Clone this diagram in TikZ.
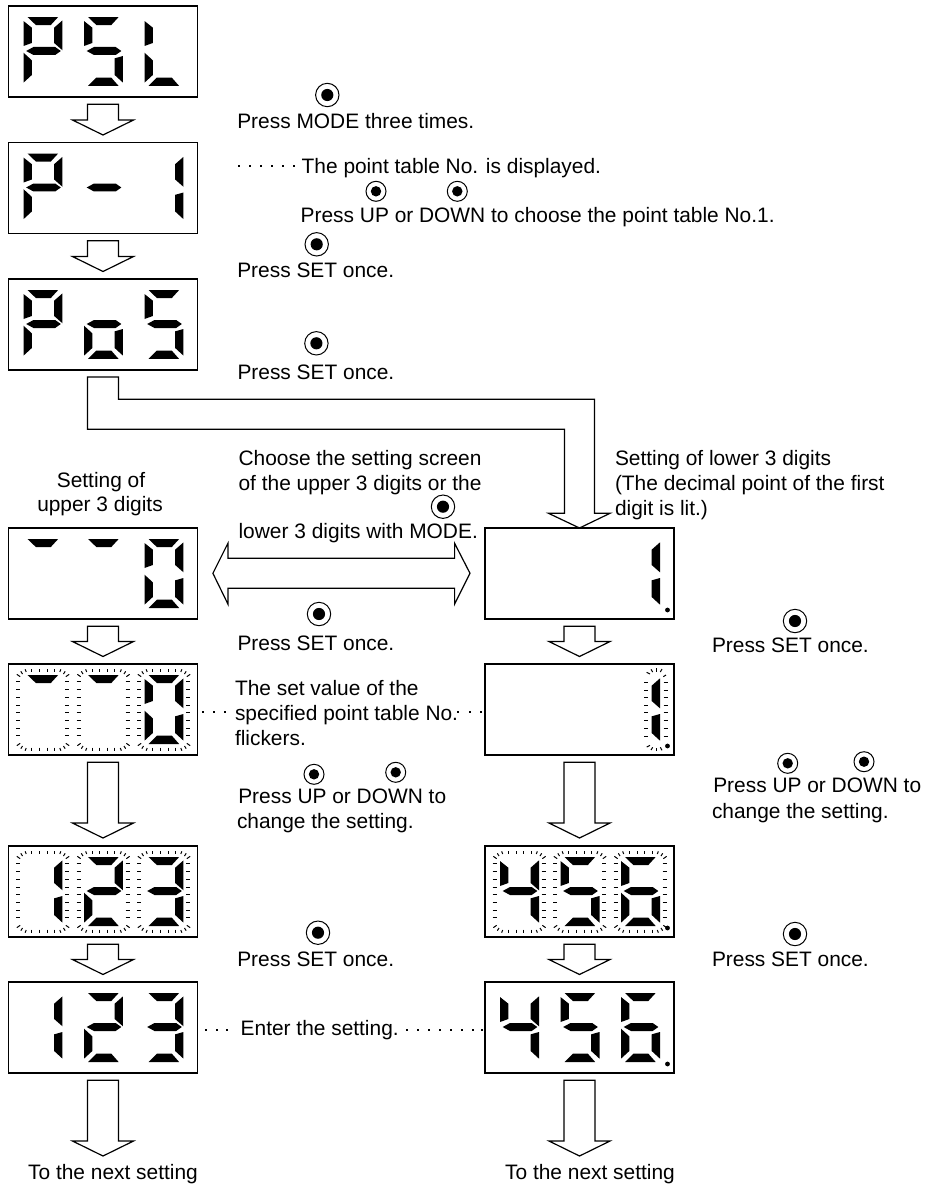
\documentclass[tikz,border=0pt]{standalone}
\usepackage{fontspec}
\setmainfont{Liberation Sans}
\usetikzlibrary{calc}
\tikzset{
  x=1pt,y=-1pt,
  screen/.style={draw=black,line width=1.3pt,fill=white,minimum width=189pt,minimum height=91pt,inner sep=0pt,outer sep=0pt,anchor=north west},
  blockarrow/.style={draw=black,line width=1.2pt,fill=white,line join=miter},
  label/.style={anchor=base west,inner sep=0pt,outer sep=0pt,font=\fontsize{20.9pt}{25pt}\selectfont},
  clabel/.style={anchor=base,inner sep=0pt,outer sep=0pt,font=\fontsize{20.9pt}{25pt}\selectfont},
  seg/.style={fill=black,draw=none},
  tick/.style={draw=black,line width=1pt},
}
\newcommand{\segT}{\fill[seg] (12,0)--(104,0)--(82,24)--(37,24)--cycle;}
\newcommand{\segUL}{\fill[seg] (0,12)--(25,32)--(25,78)--(0,87)--cycle;}
\newcommand{\segUR}{\fill[seg] (117,10)--(92,32)--(92,78)--(117,100)--cycle;}
\newcommand{\segM}{\fill[seg] (8,102)--(30,90)--(95,90)--(112,102)--(95,114)--(30,114)--cycle;}
\newcommand{\segLL}{\fill[seg] (0,107)--(25,130)--(25,174)--(0,197)--cycle;}
\newcommand{\segLR}{\fill[seg] (117,117)--(92,124)--(92,174)--(117,197)--cycle;}
\newcommand{\segB}{\fill[seg] (12,207)--(37,182)--(82,182)--(104,207)--cycle;}
\newcommand{\ringwide}{%
  \foreach \v in {20,43,66,90,112,136,159,182}{%
    \draw[tick] (-22,\v)--(-10,\v);
    \draw[tick] (125,\v)--(137,\v);
  }
  \foreach \u in {25,48,71,93}{%
    \draw[tick] (\u,-18)--(\u,-8);
    \draw[tick] (\u,218)--(\u,228);
  }
  \draw[tick] (-20,-2)--(-10,5);
  \draw[tick] (-8,-11)--(-3,-3);
  \draw[tick] (5,-17)--(8,-9);
  \draw[tick] (137,-2)--(127,5);
  \draw[tick] (125,-11)--(120,-3);
  \draw[tick] (112,-17)--(109,-9);
  \draw[tick] (-20,212)--(-10,205);
  \draw[tick] (-8,221)--(-3,213);
  \draw[tick] (5,227)--(8,219);
  \draw[tick] (137,212)--(127,205);
  \draw[tick] (125,221)--(120,213);
  \draw[tick] (112,227)--(109,219);
}
\newcommand{\ringnarrow}{%
  \foreach \v in {23,45,67,90,113,135,160,183}{%
    \draw[tick] (70,\v)--(82,\v);
    \draw[tick] (128,\v)--(140,\v);
  }
  \draw[tick] (77,-8)--(87,-3);
  \draw[tick] (90,-17)--(95,-9);
  \draw[tick] (107,-20)--(107,-10);
  \draw[tick] (123,-18)--(118,-9);
  \draw[tick] (135,0)--(127,5);
  \draw[tick] (77,216)--(87,211);
  \draw[tick] (90,225)--(95,217);
  \draw[tick] (107,228)--(107,218);
  \draw[tick] (123,226)--(118,217);
}
\newcommand{\dig}[3]{%
  \begin{scope}[shift={($(#1.north west)+({(45+181.5*#2)/3},{33/3})$)},x=0.3333pt,y=-0.3333pt]
  #3
  \end{scope}}
\newcommand{\pointdot}[1]{\fill ($(#1.north west)+(182.5,82)$) circle (2.4pt);}
\newcommand{\arrowdown}[2]{%
  \draw[blockarrow] let \p1=(#1.south), \p2=(#2) in
   (\x1-15.5,\y1-7.3)--(\x1+15.5,\y1-7.3)--(\x1+15.5,\y2+15)--(\x1+30.5,\y2+15)--(\x1,\y2)--(\x1-30.5,\y2+15)--(\x1-15.5,\y2+15)--cycle;}
\newcommand{\button}[3][11.7]{%
  \node[circle,draw=black,line width=1pt,fill=white,minimum size=#1*2pt,inner sep=0pt] (#2) at #3 {};
  \fill[black] (#2.center) circle ({#1*0.52pt});}
\newcommand{\ldot}[1]{\fill[black] ([xshift=-1.1pt,yshift=-1.1pt]#1) rectangle ++(2.2pt,2.2pt);}
\begin{document}
\begin{tikzpicture}
\useasboundingbox (0,0) rectangle (926,1186);
\fill[white] (0,0) rectangle (926,1186);
\node[screen] (a1) at (8.5,6) {};
\node[screen] (a2) at (8.5,142.5) {};
\node[screen] (a3) at (8.5,279) {};
\node[screen] (a4) at (8.5,528) {};
\node[screen] (a5) at (8.5,664) {};
\node[screen] (a6) at (8.5,846) {};
\node[screen] (a7) at (8.5,982) {};
\node[screen] (b4) at (485,528) {};
\node[screen] (b5) at (485,664) {};
\node[screen] (b6) at (485,846) {};
\node[screen] (b7) at (485,982) {};
\coordinate (endL) at (103,1156);
\coordinate (endR) at (579.5,1156);
\coordinate (t2) at (103,135);
\coordinate (t3) at (103,271.5);
\coordinate (t5) at (103,656.5);
\coordinate (t6) at (103,838);
\coordinate (t7) at (103,974.5);
\coordinate (u5) at (579.5,656.5);
\coordinate (u6) at (579.5,838);
\coordinate (u7) at (579.5,974.5);
\arrowdown{a1}{t2}
\arrowdown{a2}{t3}
\arrowdown{a4}{t5}
\arrowdown{a5}{t6}
\arrowdown{a6}{t7}
\arrowdown{a7}{endL}
\arrowdown{b4}{u5}
\arrowdown{b5}{u6}
\arrowdown{b6}{u7}
\arrowdown{b7}{endR}
\draw[blockarrow] let \p1=(a3.south), \p2=(b4.north) in
  (\x1-15.5,\y1-7)--(\x1+15.5,\y1-7)--(\x1+15.5,-399.3pt)--(\x2+15,-399.3pt)--(\x2+15,\y2+14.7)--(\x2+30.5,\y2+14.7)--(\x2,\y2)--(\x2-31,\y2+14.7)--(\x2-15,\y2+14.7)--(\x2-15,-429.3pt)--(\x1-15.5,-429.3pt)--cycle;
\fill (346.8,398.6) rectangle (348.8,400.1);
\fill (346.8,428.6) rectangle (348.8,430.1);
\draw[blockarrow] (212.9,573.3)--(227.9,543.3)--(227.9,558.3)--(454.6,558.3)--(454.6,543.3)--(470,573.3)--(454.6,604)--(454.6,588.3)--(227.9,588.3)--(227.9,604)--cycle;
\dig{a1}{0}{\segT\segUL\segUR\segM\segLL}
\dig{a1}{1}{\segT\segUL\segM\segLR\segB}
\dig{a1}{2}{\segUL\segLL\segB}
\dig{a2}{0}{\segT\segUL\segUR\segM\segLL}
\dig{a2}{1}{\segM}
\dig{a2}{2}{\segUR\segLR}
\dig{a3}{0}{\segT\segUL\segUR\segM\segLL}
\dig{a3}{1}{\segM\segLL\segLR\segB}
\dig{a3}{2}{\segT\segUL\segM\segLR\segB}
\dig{a4}{0}{\segT}
\dig{a4}{1}{\segT}
\dig{a4}{2}{\segT\segUL\segUR\segLL\segLR\segB}
\dig{a5}{0}{\ringwide\segT}
\dig{a5}{1}{\ringwide\segT}
\dig{a5}{2}{\ringwide\segT\segUL\segUR\segLL\segLR\segB}
\dig{a6}{0}{\ringwide\segUR\segLR}
\dig{a6}{1}{\ringwide\segT\segUR\segM\segLL\segB}
\dig{a6}{2}{\ringwide\segT\segUR\segM\segLR\segB}
\dig{a7}{0}{\segUR\segLR}
\dig{a7}{1}{\segT\segUR\segM\segLL\segB}
\dig{a7}{2}{\segT\segUR\segM\segLR\segB}
\dig{b4}{2}{\segUR\segLR}
\pointdot{b4}
\dig{b5}{2}{\ringnarrow\segUR\segLR}
\pointdot{b5}
\dig{b6}{0}{\ringwide\segUL\segUR\segM\segLR}
\dig{b6}{1}{\ringwide\segT\segUL\segM\segLR\segB}
\dig{b6}{2}{\ringwide\segT\segUL\segM\segLL\segLR\segB}
\pointdot{b6}
\dig{b7}{0}{\segUL\segUR\segM\segLR}
\dig{b7}{1}{\segT\segUL\segM\segLR\segB}
\dig{b7}{2}{\segT\segUL\segM\segLL\segLR\segB}
\pointdot{b7}
\button{p1}{(327.3,95)}
\button[10]{p2}{(376,191.3)}
\button[10]{p3}{(457.3,191.3)}
\button{p4}{(316.7,244.3)}
\button{p5}{(316.4,343.3)}
\button{p6}{(443,506.7)}
\button{p7}{(319,614)}
\button[10]{p8}{(314,774.3)}
\button[10]{p9}{(395.7,772.3)}
\button{p10}{(318,932.7)}
\button{p11}{(795,621)}
\button[10]{p12}{(787.7,763.3)}
\button[10]{p13}{(864,761.7)}
\button{p14}{(795,934)}
\node[label] (tx1) at (237.3,128.3) {Press MODE three times.};
\node[label] (tx2) at (301.7,173.3) {The point table No. is displayed.};
\node[label] (tx3) at (300.7,222.3) {Press UP or DOWN to choose the point table No.1.};
\node[label] (tx4) at (237.3,277.3) {Press SET once.};
\node[label] (tx5) at (237.5,379) {Press SET once.};
\node[label] (tx6) at (238.6,465) {Choose the setting screen};
\node[label] (tx7) at (238.6,490) {of the upper 3 digits or the};
\node[label] (tx8) at (238.6,538.3) {lower 3 digits with MODE.};
\node[clabel] (tx9) at (101,487) {Setting of};
\node[clabel] (tx10) at (100,511.7) {upper 3 digits};
\node[label] (tx11) at (615,465) {Setting of lower 3 digits};
\node[label] (tx12) at (615,490.5) {(The decimal point of the first};
\node[label] (tx13) at (615,515) {digit is lit.)};
\node[label] (tx14) at (237.5,650) {Press SET once.};
\node[label] (tx15) at (712,652) {Press SET once.};
\node[label] (tx16) at (235,695.7) {The set value of the};
\node[label] (tx17) at (235,720.7) {specified point table No.};
\node[label] (tx18) at (235,745) {flickers.};
\node[label] (tx19) at (238.3,803.3) {Press UP or DOWN to};
\node[label] (tx20) at (237,828.3) {change the setting.};
\node[label] (tx21) at (713.3,792.3) {Press UP or DOWN to};
\node[label] (tx22) at (712,818.3) {change the setting.};
\node[label] (tx23) at (237.3,966.7) {Press SET once.};
\node[label] (tx24) at (712,966.7) {Press SET once.};
\node[label] (tx25) at (240.7,1035.7) {Enter the setting.};
\node[clabel] (tx26) at (113,1179.3) {To the next setting};
\node[clabel] (tx27) at (590,1179.3) {To the next setting};
\foreach \x in {239,250,261,272,283,294}{\coordinate (d) at (\x,166);\ldot{d}}
\foreach \x in {203.3,214.3,225.3,458.3,470,481}{\coordinate (d) at (\x,711.7);\ldot{d}}
\foreach \x in {206,216.7,227.3,406.7,417.7,429,440,451,462,473,482}{\coordinate (d) at (\x,1030);\ldot{d}}
\end{tikzpicture}
\end{document}
